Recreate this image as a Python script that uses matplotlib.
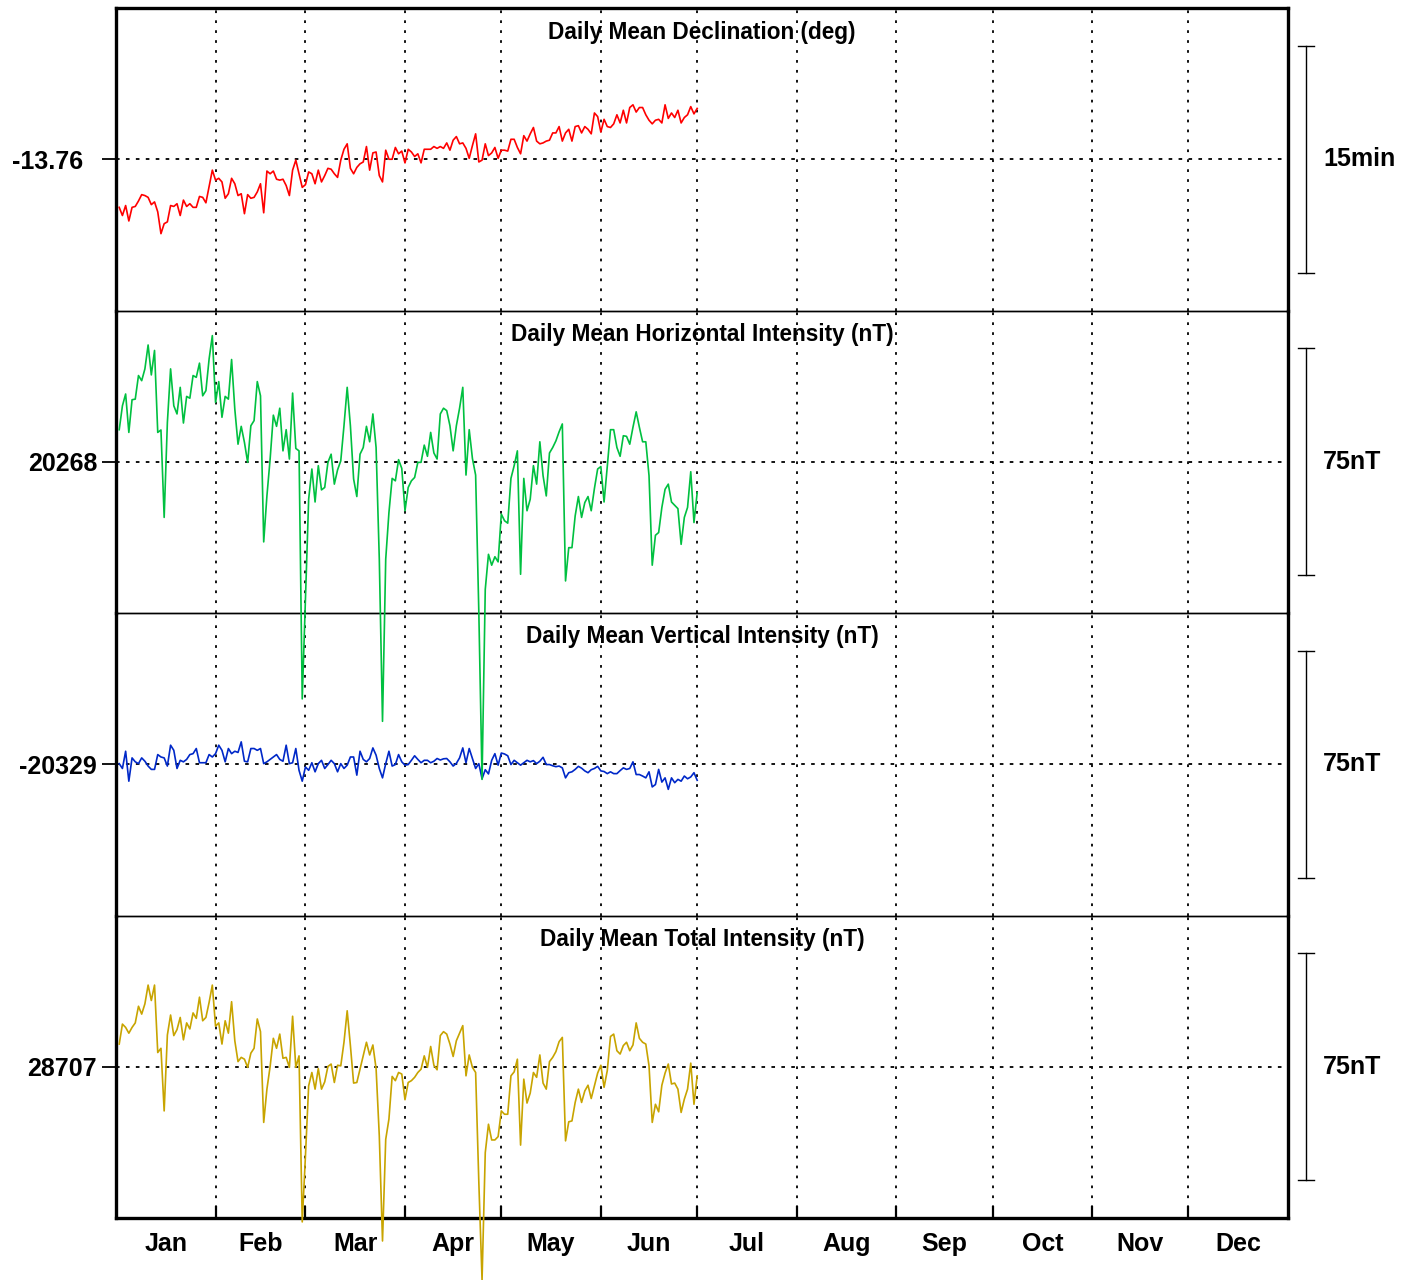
import numpy as np
import matplotlib.pyplot as plt
from matplotlib.transforms import blended_transform_factory

plt.rcParams['font.family'] = ['Liberation Sans', 'DejaVu Sans']
plt.rcParams['font.weight'] = 'bold'

# daily means, day of year 1..181
days = np.arange(1, 182)

declination = [
    -13.813, -13.822, -13.811, -13.828, -13.813, -13.812, -13.806, -13.799, -13.800, -13.802,
    -13.810, -13.807, -13.818, -13.842, -13.831, -13.829, -13.811, -13.812, -13.809, -13.822,
    -13.805, -13.812, -13.809, -13.813, -13.813, -13.801, -13.802, -13.808, -13.790, -13.772,
    -13.783, -13.781, -13.785, -13.803, -13.798, -13.781, -13.787, -13.800, -13.798, -13.820,
    -13.799, -13.803, -13.802, -13.796, -13.787, -13.819, -13.773, -13.776, -13.773, -13.782,
    -13.783, -13.782, -13.789, -13.800, -13.772, -13.761, -13.776, -13.791, -13.788, -13.774,
    -13.776, -13.787, -13.772, -13.785, -13.778, -13.770, -13.771, -13.776, -13.780, -13.761,
    -13.749, -13.743, -13.770, -13.776, -13.769, -13.765, -13.763, -13.746, -13.772, -13.753,
    -13.752, -13.778, -13.785, -13.750, -13.760, -13.760, -13.747, -13.754, -13.751, -13.764,
    -13.749, -13.752, -13.757, -13.754, -13.764, -13.749, -13.749, -13.749, -13.746, -13.748,
    -13.746, -13.748, -13.742, -13.750, -13.739, -13.735, -13.743, -13.742, -13.748, -13.759,
    -13.745, -13.732, -13.763, -13.761, -13.743, -13.756, -13.753, -13.747, -13.759, -13.750,
    -13.750, -13.751, -13.738, -13.738, -13.747, -13.754, -13.734, -13.740, -13.732, -13.725,
    -13.740, -13.743, -13.742, -13.740, -13.739, -13.731, -13.731, -13.724, -13.740, -13.731,
    -13.727, -13.740, -13.724, -13.723, -13.731, -13.724, -13.727, -13.732, -13.709, -13.713,
    -13.730, -13.716, -13.724, -13.725, -13.721, -13.711, -13.720, -13.706, -13.720, -13.703,
    -13.700, -13.708, -13.703, -13.703, -13.711, -13.717, -13.721, -13.717, -13.716, -13.720,
    -13.700, -13.715, -13.709, -13.714, -13.706, -13.720, -13.714, -13.711, -13.702, -13.710, -13.704,
]

horizontal = [
    20278.6, 20286.5, 20290.4, 20277.7, 20288.5, 20288.7, 20296.5, 20294.8, 20298.7, 20306.6,
    20296.7, 20304.8, 20277.7, 20278.5, 20249.6, 20281.0, 20298.7, 20286.5, 20283.8, 20292.6,
    20280.8, 20289.6, 20289.0, 20296.5, 20295.9, 20300.6, 20289.8, 20291.5, 20302.0, 20309.7,
    20287.6, 20294.5, 20282.7, 20289.6, 20288.7, 20301.8, 20285.4, 20273.8, 20279.7, 20274.4,
    20267.8, 20279.9, 20281.6, 20294.5, 20289.8, 20241.5, 20256.7, 20268.9, 20283.4, 20279.7,
    20285.7, 20271.6, 20278.6, 20268.9, 20290.7, 20272.4, 20271.6, 20189.6, 20222.5, 20255.6,
    20265.6, 20254.7, 20266.7, 20258.7, 20259.5, 20267.8, 20270.5, 20260.6, 20265.3, 20268.3,
    20279.9, 20292.6, 20279.9, 20262.3, 20256.5, 20270.5, 20272.7, 20279.7, 20274.6, 20283.8,
    20272.7, 20235.8, 20182.2, 20235.8, 20251.2, 20262.5, 20261.7, 20268.7, 20265.8, 20251.8,
    20259.5, 20261.7, 20262.8, 20267.8, 20267.8, 20273.5, 20269.8, 20277.7, 20270.9, 20268.9,
    20283.8, 20285.7, 20284.9, 20279.9, 20271.6, 20279.9, 20285.7, 20292.6, 20263.6, 20278.6,
    20269.1, 20263.6, 20218.1, 20163.0, 20225.8, 20237.4, 20233.8, 20236.6, 20234.9, 20250.7,
    20248.5, 20247.7, 20262.5, 20266.7, 20271.6, 20230.8, 20262.5, 20251.8, 20255.6, 20266.7,
    20260.6, 20274.6, 20263.4, 20256.7, 20270.9, 20272.7, 20274.9, 20277.9, 20280.5, 20228.6,
    20239.6, 20239.6, 20250.1, 20256.5, 20249.6, 20254.5, 20256.5, 20251.8, 20259.2, 20265.6,
    20266.4, 20254.7, 20266.4, 20278.6, 20278.6, 20272.7, 20269.8, 20276.6, 20276.4, 20273.8,
    20279.4, 20284.5, 20279.4, 20274.6, 20274.6, 20263.4, 20233.8, 20243.7, 20244.6, 20252.9,
    20258.9, 20260.6, 20254.7, 20253.6, 20252.5, 20240.7, 20249.6, 20252.9, 20264.7, 20247.9, 20257.8,
]

vertical = [
    -20328.8, -20330.4, -20324.7, -20334.6, -20326.9, -20328.2, -20328.8, -20326.9, -20328.0, -20329.6,
    -20330.7, -20330.7, -20325.8, -20326.6, -20326.9, -20329.6, -20322.7, -20324.4, -20330.4, -20327.7,
    -20328.2, -20327.4, -20325.8, -20325.5, -20323.8, -20328.5, -20328.5, -20328.5, -20325.8, -20326.6,
    -20325.5, -20322.7, -20324.4, -20328.2, -20323.8, -20325.5, -20324.7, -20325.1, -20321.6, -20328.0,
    -20328.2, -20323.8, -20323.8, -20324.4, -20323.8, -20328.8, -20328.2, -20327.4, -20326.6, -20325.8,
    -20327.4, -20328.0, -20322.7, -20328.8, -20328.5, -20323.8, -20331.0, -20334.6, -20329.9, -20331.0,
    -20328.5, -20331.5, -20328.8, -20327.7, -20330.4, -20329.1, -20327.7, -20328.8, -20331.5, -20328.8,
    -20330.4, -20329.3, -20326.6, -20326.6, -20332.6, -20324.7, -20327.4, -20328.2, -20327.1, -20323.6,
    -20326.0, -20330.4, -20333.5, -20328.8, -20324.7, -20329.6, -20329.1, -20325.8, -20328.2, -20329.3,
    -20329.1, -20327.7, -20326.2, -20327.4, -20328.5, -20327.7, -20327.7, -20328.5, -20328.0, -20327.1,
    -20327.6, -20327.2, -20327.1, -20328.2, -20329.6, -20328.7, -20326.9, -20323.6, -20328.5, -20323.8,
    -20327.1, -20330.4, -20328.8, -20333.8, -20330.8, -20332.2, -20327.7, -20325.5, -20329.3, -20325.3,
    -20325.6, -20326.2, -20329.1, -20327.7, -20328.5, -20329.3, -20328.5, -20327.7, -20328.2, -20327.8,
    -20328.8, -20328.0, -20326.7, -20329.1, -20329.1, -20329.5, -20329.8, -20329.6, -20330.2, -20333.5,
    -20331.8, -20331.5, -20330.7, -20329.7, -20330.3, -20331.2, -20331.8, -20330.8, -20330.4, -20329.7,
    -20331.2, -20331.4, -20332.1, -20331.5, -20332.1, -20332.1, -20331.1, -20330.2, -20330.7, -20330.4,
    -20328.2, -20332.4, -20332.4, -20332.9, -20333.5, -20331.5, -20336.5, -20335.7, -20330.7, -20334.9,
    -20333.5, -20337.3, -20333.5, -20335.1, -20334.0, -20334.6, -20332.9, -20333.8, -20333.2, -20331.8, -20334.3,
]

total = [
    28714.5, 28721.1, 28720.0, 28718.1, 28720.0, 28721.5, 28727.0, 28724.4, 28727.8, 28734.0,
    28728.9, 28734.0, 28711.7, 28713.1, 28692.4, 28717.5, 28724.1, 28717.3, 28719.3, 28723.3,
    28715.9, 28721.5, 28719.5, 28724.8, 28723.0, 28730.0, 28722.2, 28723.3, 28728.3, 28734.0,
    28720.4, 28721.5, 28714.5, 28722.2, 28718.1, 28728.5, 28715.6, 28708.7, 28710.1, 28709.5,
    28706.8, 28711.5, 28713.1, 28722.8, 28718.6, 28688.6, 28699.6, 28707.1, 28716.4, 28713.1,
    28717.8, 28709.8, 28710.1, 28706.8, 28723.7, 28706.8, 28710.6, 28655.7, 28677.5, 28700.7,
    28705.1, 28699.6, 28706.4, 28699.6, 28702.0, 28707.1, 28707.9, 28701.8, 28707.5, 28707.3,
    28715.1, 28725.5, 28714.0, 28701.6, 28701.8, 28706.2, 28710.6, 28715.1, 28710.9, 28714.2,
    28706.4, 28684.1, 28649.4, 28683.0, 28689.7, 28703.8, 28702.4, 28705.1, 28704.6, 28696.1,
    28701.8, 28702.4, 28703.5, 28705.1, 28706.2, 28710.6, 28706.8, 28713.7, 28707.5, 28706.0,
    28717.3, 28718.6, 28717.8, 28714.5, 28710.4, 28715.6, 28718.1, 28720.6, 28704.0, 28710.9,
    28706.8, 28705.1, 28668.7, 28636.5, 28678.6, 28688.0, 28682.8, 28682.8, 28683.9, 28692.4,
    28691.3, 28691.3, 28704.0, 28705.3, 28709.5, 28681.1, 28702.9, 28695.0, 28698.3, 28705.1,
    28703.5, 28710.9, 28701.6, 28699.6, 28708.7, 28710.1, 28712.0, 28715.3, 28716.7, 28682.5,
    28688.8, 28689.1, 28695.2, 28699.6, 28695.2, 28699.0, 28700.9, 28696.5, 28700.7, 28704.9,
    28707.5, 28700.2, 28705.7, 28717.0, 28717.8, 28712.3, 28711.2, 28714.0, 28715.1, 28712.3,
    28714.2, 28721.5, 28716.4, 28715.1, 28714.5, 28707.3, 28688.6, 28694.6, 28692.1, 28700.9,
    28704.9, 28707.9, 28701.3, 28701.6, 28699.6, 28691.9, 28696.3, 28699.6, 28708.2, 28694.6, 28704.0,
]

titles = ["Daily Mean Declination (deg)", "Daily Mean Horizontal Intensity (nT)",
          "Daily Mean Vertical Intensity (nT)", "Daily Mean Total Intensity (nT)"]
centers = [-13.76, 20268, -20329, 28707]
center_labels = ["-13.76", "20268", "-20329", "28707"]
half_ranges = [1 / 6, 50, 50, 50]
bar_sizes = [0.25, 75, 75, 75]
bar_labels = ["15min", "75nT", "75nT", "75nT"]
colors = ["#ff0000", "#00c040", "#0028c8", "#c8a400"]
series = [declination, horizontal, vertical, total]

months = ["Jan", "Feb", "Mar", "Apr", "May", "Jun", "Jul", "Aug", "Sep", "Oct", "Nov", "Dec"]
month_edges = [0, 31, 59, 90, 120, 151, 181, 212, 243, 273, 304, 334, 365]

W, H = 1408, 1280
fig = plt.figure(figsize=(W / 100, H / 100), dpi=100)

left, right, top, bottom = 116, 1288, 8, 1218
ph = (bottom - top) / 4

for i in range(4):
    y0 = top + ph * (i + 1)
    ax = fig.add_axes([left / W, 1 - y0 / H, (right - left) / W, ph / H])
    ax.set_facecolor('none')
    ax.set_zorder(10 - i)
    c = centers[i]
    ax.set_xlim(0, 365)
    ax.set_ylim(c - half_ranges[i], c + half_ranges[i])

    # grid
    for m in month_edges[1:-1]:
        ax.axvline(m, color='black', lw=1.3, ls=(0, (1.5, 4)), zorder=1)
    ax.axhline(c, color='black', lw=1.3, ls=(0, (2, 3.5)), zorder=1)

    ax.plot(days, series[i], color=colors[i], lw=1.2, clip_on=False, zorder=3)

    for s in ['left', 'right']:
        ax.spines[s].set_linewidth(2.4)
    ax.spines['top'].set_linewidth(2.4 if i == 0 else 1.0)
    ax.spines['bottom'].set_linewidth(2.4 if i == 3 else 1.0)

    ax.set_yticks([c])
    ax.set_yticklabels([center_labels[i]], fontsize=18, fontweight='bold')
    ax.tick_params(axis='y', direction='out', length=10, width=1.3,
                   pad=13.5 if i == 0 else 3.5)

    ax.text(0.5, 1 - 24 / ph, titles[i], transform=ax.transAxes, ha='center', va='center',
            fontsize=16.3, fontweight='bold', zorder=5)

    # scale bar on the right
    tr = blended_transform_factory(ax.transAxes, ax.transData)
    bx = 1 + 18 / (right - left)
    cap = 8 / (right - left)
    lo, hi = c - bar_sizes[i] / 2, c + bar_sizes[i] / 2
    ax.plot([bx, bx], [lo, hi], color='black', lw=1.0, transform=tr, clip_on=False)
    ax.plot([bx - cap, bx + cap], [lo, lo], color='black', lw=1.0, transform=tr, clip_on=False)
    ax.plot([bx - cap, bx + cap], [hi, hi], color='black', lw=1.0, transform=tr, clip_on=False)
    ax.text(1 + 35 / (right - left), c, bar_labels[i], transform=tr, ha='left', va='center',
            fontsize=18, fontweight='bold')

    ax.set_xticks(month_edges[1:-1])
    if i == 3:
        ax.set_xticklabels([])
        ax.tick_params(axis='x', which='major', direction='in', length=9, width=1.6)
        mids = [(a + b) / 2 for a, b in zip(month_edges[:-1], month_edges[1:])]
        ax.set_xticks(mids, minor=True)
        ax.set_xticklabels(months, minor=True, fontsize=18, fontweight='bold')
        ax.tick_params(axis='x', which='minor', length=0, pad=10)
    else:
        ax.tick_params(axis='x', length=0, labelbottom=False)

fig.savefig("out.png", dpi=100)
